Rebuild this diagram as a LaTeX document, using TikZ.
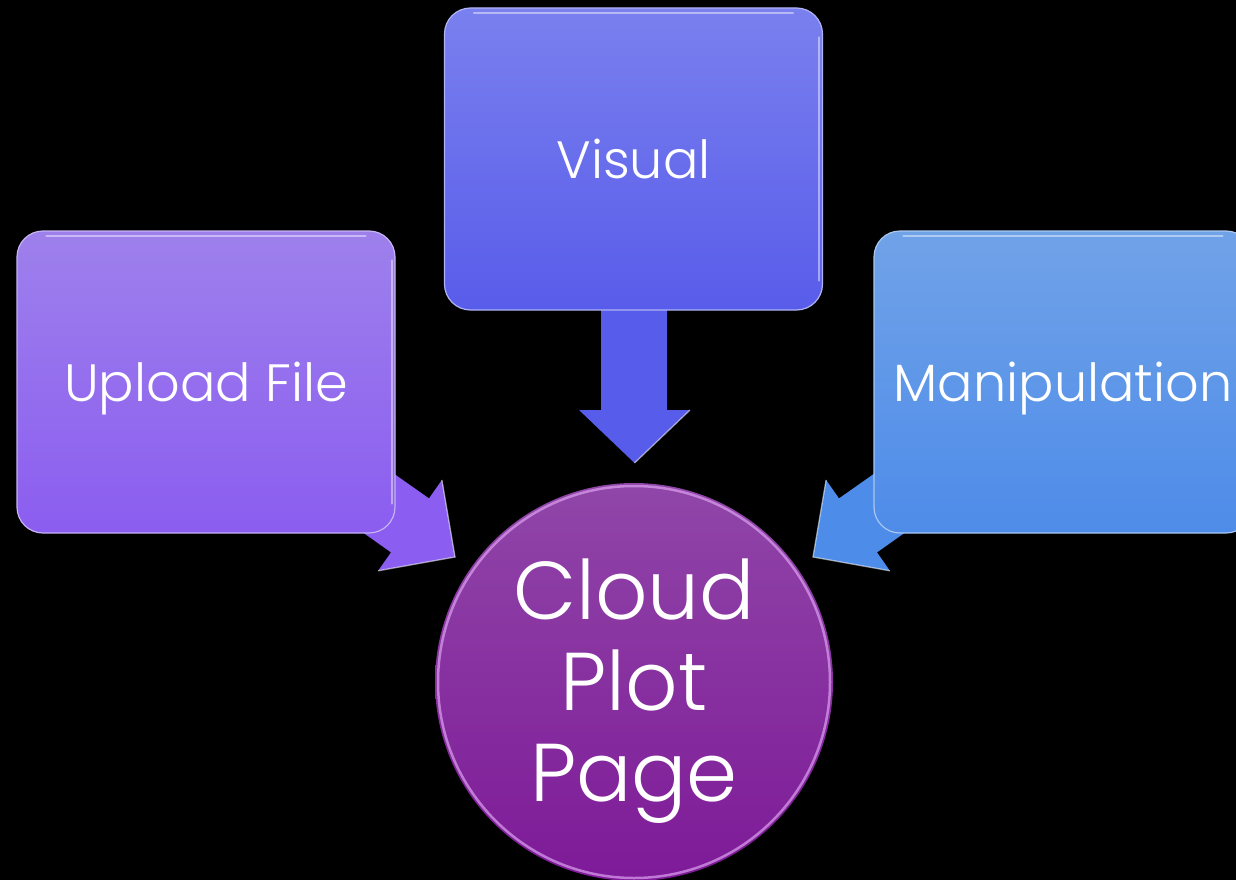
\documentclass[tikz,border=0pt]{standalone}
\usepackage{fontspec}
\setmainfont{Poppins Light}
\begin{document}
\begin{tikzpicture}[x=1pt,y=-1pt,
  box/.style={rounded corners=26pt, minimum width=378pt, minimum height=302pt,
    text=white, font=\fontsize{52.5}{60}\selectfont, inner sep=0pt,
    text height=38pt, text depth=0pt, draw=#1, line width=1.2pt},
  hub/.style={circle, minimum size=398pt, inner sep=0pt},
  hubtext/.style={text=white, align=center, font=\fontsize{82}{91}\selectfont, inner sep=0pt},
  rim/.style={line width=1.3pt, draw=white, draw opacity=.55},
  gloss/.style={white, line width=2pt, opacity=.45, line cap=round}]
\definecolor{upTop}{RGB}{158,128,236}
\definecolor{upBot}{RGB}{139,93,240}
\definecolor{viTop}{RGB}{122,128,238}
\definecolor{viBot}{RGB}{88,92,234}
\definecolor{maTop}{RGB}{112,162,232}
\definecolor{maBot}{RGB}{78,140,233}
\definecolor{huTop}{RGB}{144,70,168}
\definecolor{huBot}{RGB}{126,26,152}
\definecolor{huRim}{RGB}{220,160,240}

\fill[black] (0,0) rectangle (1236,880);
\useasboundingbox (0,0) rectangle (1236,880);
\clip (0,0) rectangle (1236,880);

% block arrows, drawn beneath the boxes they leave
\fill[upBot] (293,483) -- (331,429.4) -- (429,498.4) -- (441.9,480) -- (455,557)
  -- (378.1,570.8) -- (391,552.4) -- cycle;
\draw[rim] (441.9,480) -- (455,557) -- (378.1,570.8);
\fill[viBot] (601,290) -- (667,290) -- (667,410) -- (690,410) -- (634.5,463)
  -- (579,410) -- (601,410) -- cycle;
\draw[rim] (690,410) -- (634.5,463);
\fill[maBot] (975,483) -- (937,429.4) -- (839,498.4) -- (826.1,480) -- (813,557)
  -- (889.9,570.8) -- (877,552.4) -- cycle;
\draw[rim] (826.1,480) -- (813,557) -- (889.9,570.8);

% the three source boxes
\node[box=upTop!60!white, top color=upTop, bottom color=upBot] (upload) at (206,382) {Upload File};
\node[box=viTop!60!white, top color=viTop, bottom color=viBot] (visual) at (633.5,159) {Visual};
\node[box=maTop!60!white, top color=maTop, bottom color=maBot] (manip) at (1063,382) {Manipulation};

% glossy edge highlights on the boxes
\foreach \b in {upload,visual,manip}{
  \draw[gloss] ([xshift=30pt,yshift=-6pt]\b.north west) -- ([xshift=-30pt,yshift=-6pt]\b.north east);
  \draw[gloss] ([xshift=-4pt,yshift=-30pt]\b.north east) -- ([xshift=-4pt,yshift=30pt]\b.south east);
}

% the central page
\node[hub, top color=huTop, bottom color=huBot] (page) at (634,682) {};
\draw[huRim, line width=2.5pt, opacity=.7] (page.center) circle (196);
\node[hubtext] (pagelabel) at (634,691) {Cloud\\Plot\\Page};
\end{tikzpicture}
\end{document}
